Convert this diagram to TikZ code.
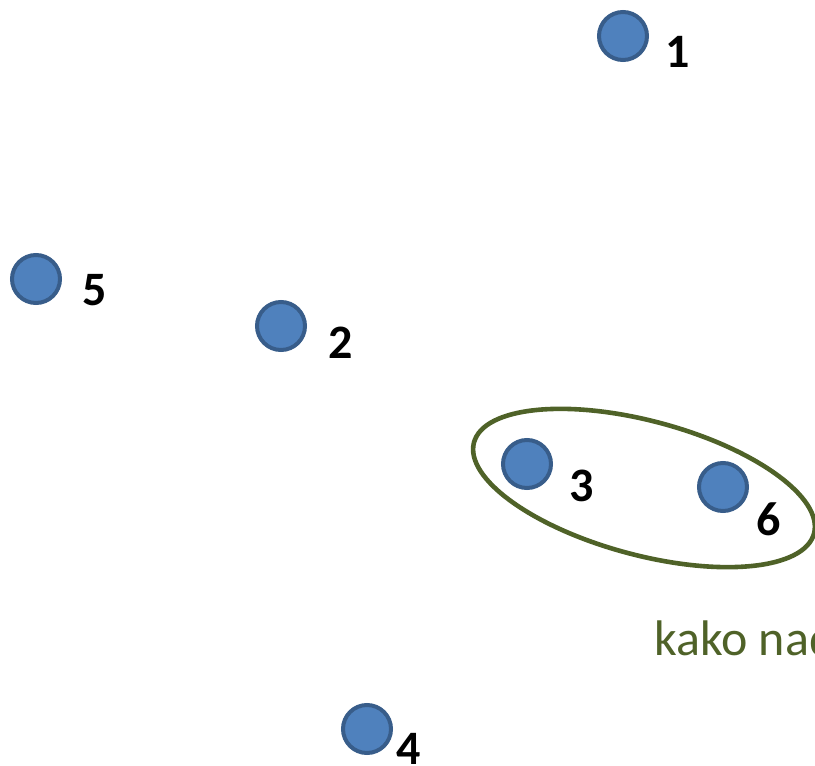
\documentclass[tikz,border=0pt]{standalone}
\usepackage{fontspec}
\setmainfont{Carlito}
\usetikzlibrary{positioning}

\definecolor{dotfill}{HTML}{4F81BD}
\definecolor{dotline}{HTML}{385D8A}
\definecolor{groupgreen}{HTML}{4F6228}

\begin{document}
\begin{tikzpicture}[x=0.5pt, y=-0.5pt,
    dot/.style={circle, draw=dotline, fill=dotfill, line width=2pt, minimum size=24pt, inner sep=0pt},
    num/.style={anchor=base, inner sep=0pt, font=\fontsize{24}{28}\selectfont\bfseries}]
        \clip (0,0) rectangle (815,766);
        \useasboundingbox (0,0) rectangle (815,766);

        \node[dot] (p1) at (623,36) {};
        \node[dot] (p5) at (36,279) {};
        \node[dot] (p2) at (281,326) {};
        \node[dot] (p3) at (527,464) {};
        \node[dot] (p6) at (723,487) {};
        \node[dot] (p4) at (367,729) {};

        \node[num] (l1) at (678,67) {1};
        \node[num] (l5) at (95,305) {5};
        \node[num] (l2) at (341,358) {2};
        \node[num] (l3) at (582,501) {3};
        \node[num] (l6) at (769,535) {6};
        \node[num] (l4) at (409,764) {4};

        % group around 3 and 6
        \draw[groupgreen, line width=2.3pt, rotate around={-15:(644,488)}] (644,488) ellipse (176 and 67);
        \node[anchor=base west, inner sep=0pt, text=groupgreen, font=\fontsize{25}{30}\selectfont] (note) at (654,655) {kako nad};
    \end{tikzpicture}
\end{document}
